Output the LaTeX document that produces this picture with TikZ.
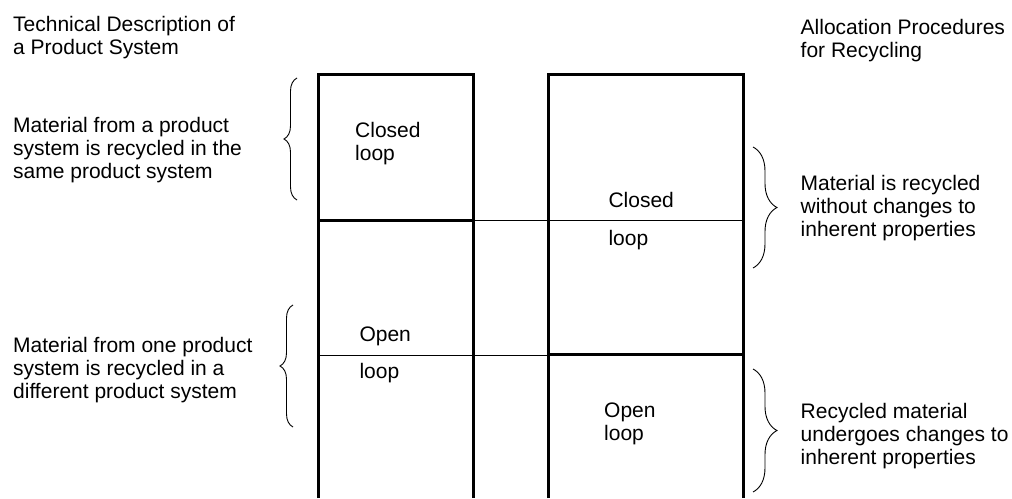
\documentclass[tikz,border=0pt]{standalone}
\usepackage{fontspec}
\setmainfont{Liberation Sans}
\usepackage{tikz}
\usetikzlibrary{decorations.pathreplacing}

\begin{document}
\begin{tikzpicture}[x=1pt, y=-1pt, line join=miter,
    note/.style={anchor=base west, inner sep=0pt, align=left, font=\fontsize{21}{23}\selectfont},
    frame/.style={line width=3pt},
    divider/.style={line width=1pt},
    bracel/.style={decorate, decoration={brace, amplitude=13pt}, line width=0.9pt},
    bracer/.style={decorate, decoration={brace, amplitude=24pt}, line width=0.9pt}]

    \useasboundingbox (0,0) rectangle (1012,498);

    % Define main coordinates
    \coordinate (L1) at (318,74);  % left column, top left
    \coordinate (L2) at (473,74);  % left column, top right
    \coordinate (R1) at (548,74);  % right column, top left
    \coordinate (R2) at (743,74);  % right column, top right

    % ==========================================
    % DRAW THE TWO COLUMNS
    % ==========================================

    % Columns are open at the bottom
    \draw[frame] (318,498) -- (L1) -- (L2) -- (473,498);
    \draw[frame] (548,498) -- (R1) -- (R2) -- (743,498);

    % Closed loop / open loop splits
    \draw[frame] (318,220) -- (473,220);
    \draw[divider] (473,220.5) -- (743,220.5);
    \draw[frame] (548,354) -- (743,354);
    \draw[divider] (318,355) -- (548,355);

    % ==========================================
    % HEADINGS AND DESCRIPTIONS
    % ==========================================

    % base anchor sits on the last line of a node
    \node[note] (techdesc) at (13,54) {Technical Description of\\a Product System};
    \node[note] (allocproc) at (800.5,57.5) {Allocation Procedures\\for Recycling};

    \node[note] (sametext) at (13,178) {Material from a product\\system is recycled in the\\same product system};
    \node[note] (difftext) at (13,398.5) {Material from one product\\system is recycled in a\\different product system};

    \node[note] (nochange) at (800.5,236) {Material is recycled\\without changes to\\inherent properties};
    \node[note] (withchange) at (800.5,464) {Recycled material\\undergoes changes to\\inherent properties};

    % Labels inside the columns
    \node[note] (closedL) at (355,160) {Closed\\loop};
    \node[note] (openL) at (359.3,341.7) {Open};
    \node[note] (openLb) at (359.3,378.3) {loop};
    \node[note] (closedR) at (608.3,207.3) {Closed};
    \node[note] (closedRb) at (608.3,245) {loop};
    \node[note] (openR) at (604,440.5) {Open\\loop};

    % ==========================================
    % BRACES
    % ==========================================

    \draw[bracel] (297,200) -- (297,78);
    \draw[bracel] (293,427) -- (293,305);
    \draw[bracer] (753,147) -- (753,268);
    \draw[bracer] (753,369) -- (753,492);

\end{tikzpicture}
\end{document}
